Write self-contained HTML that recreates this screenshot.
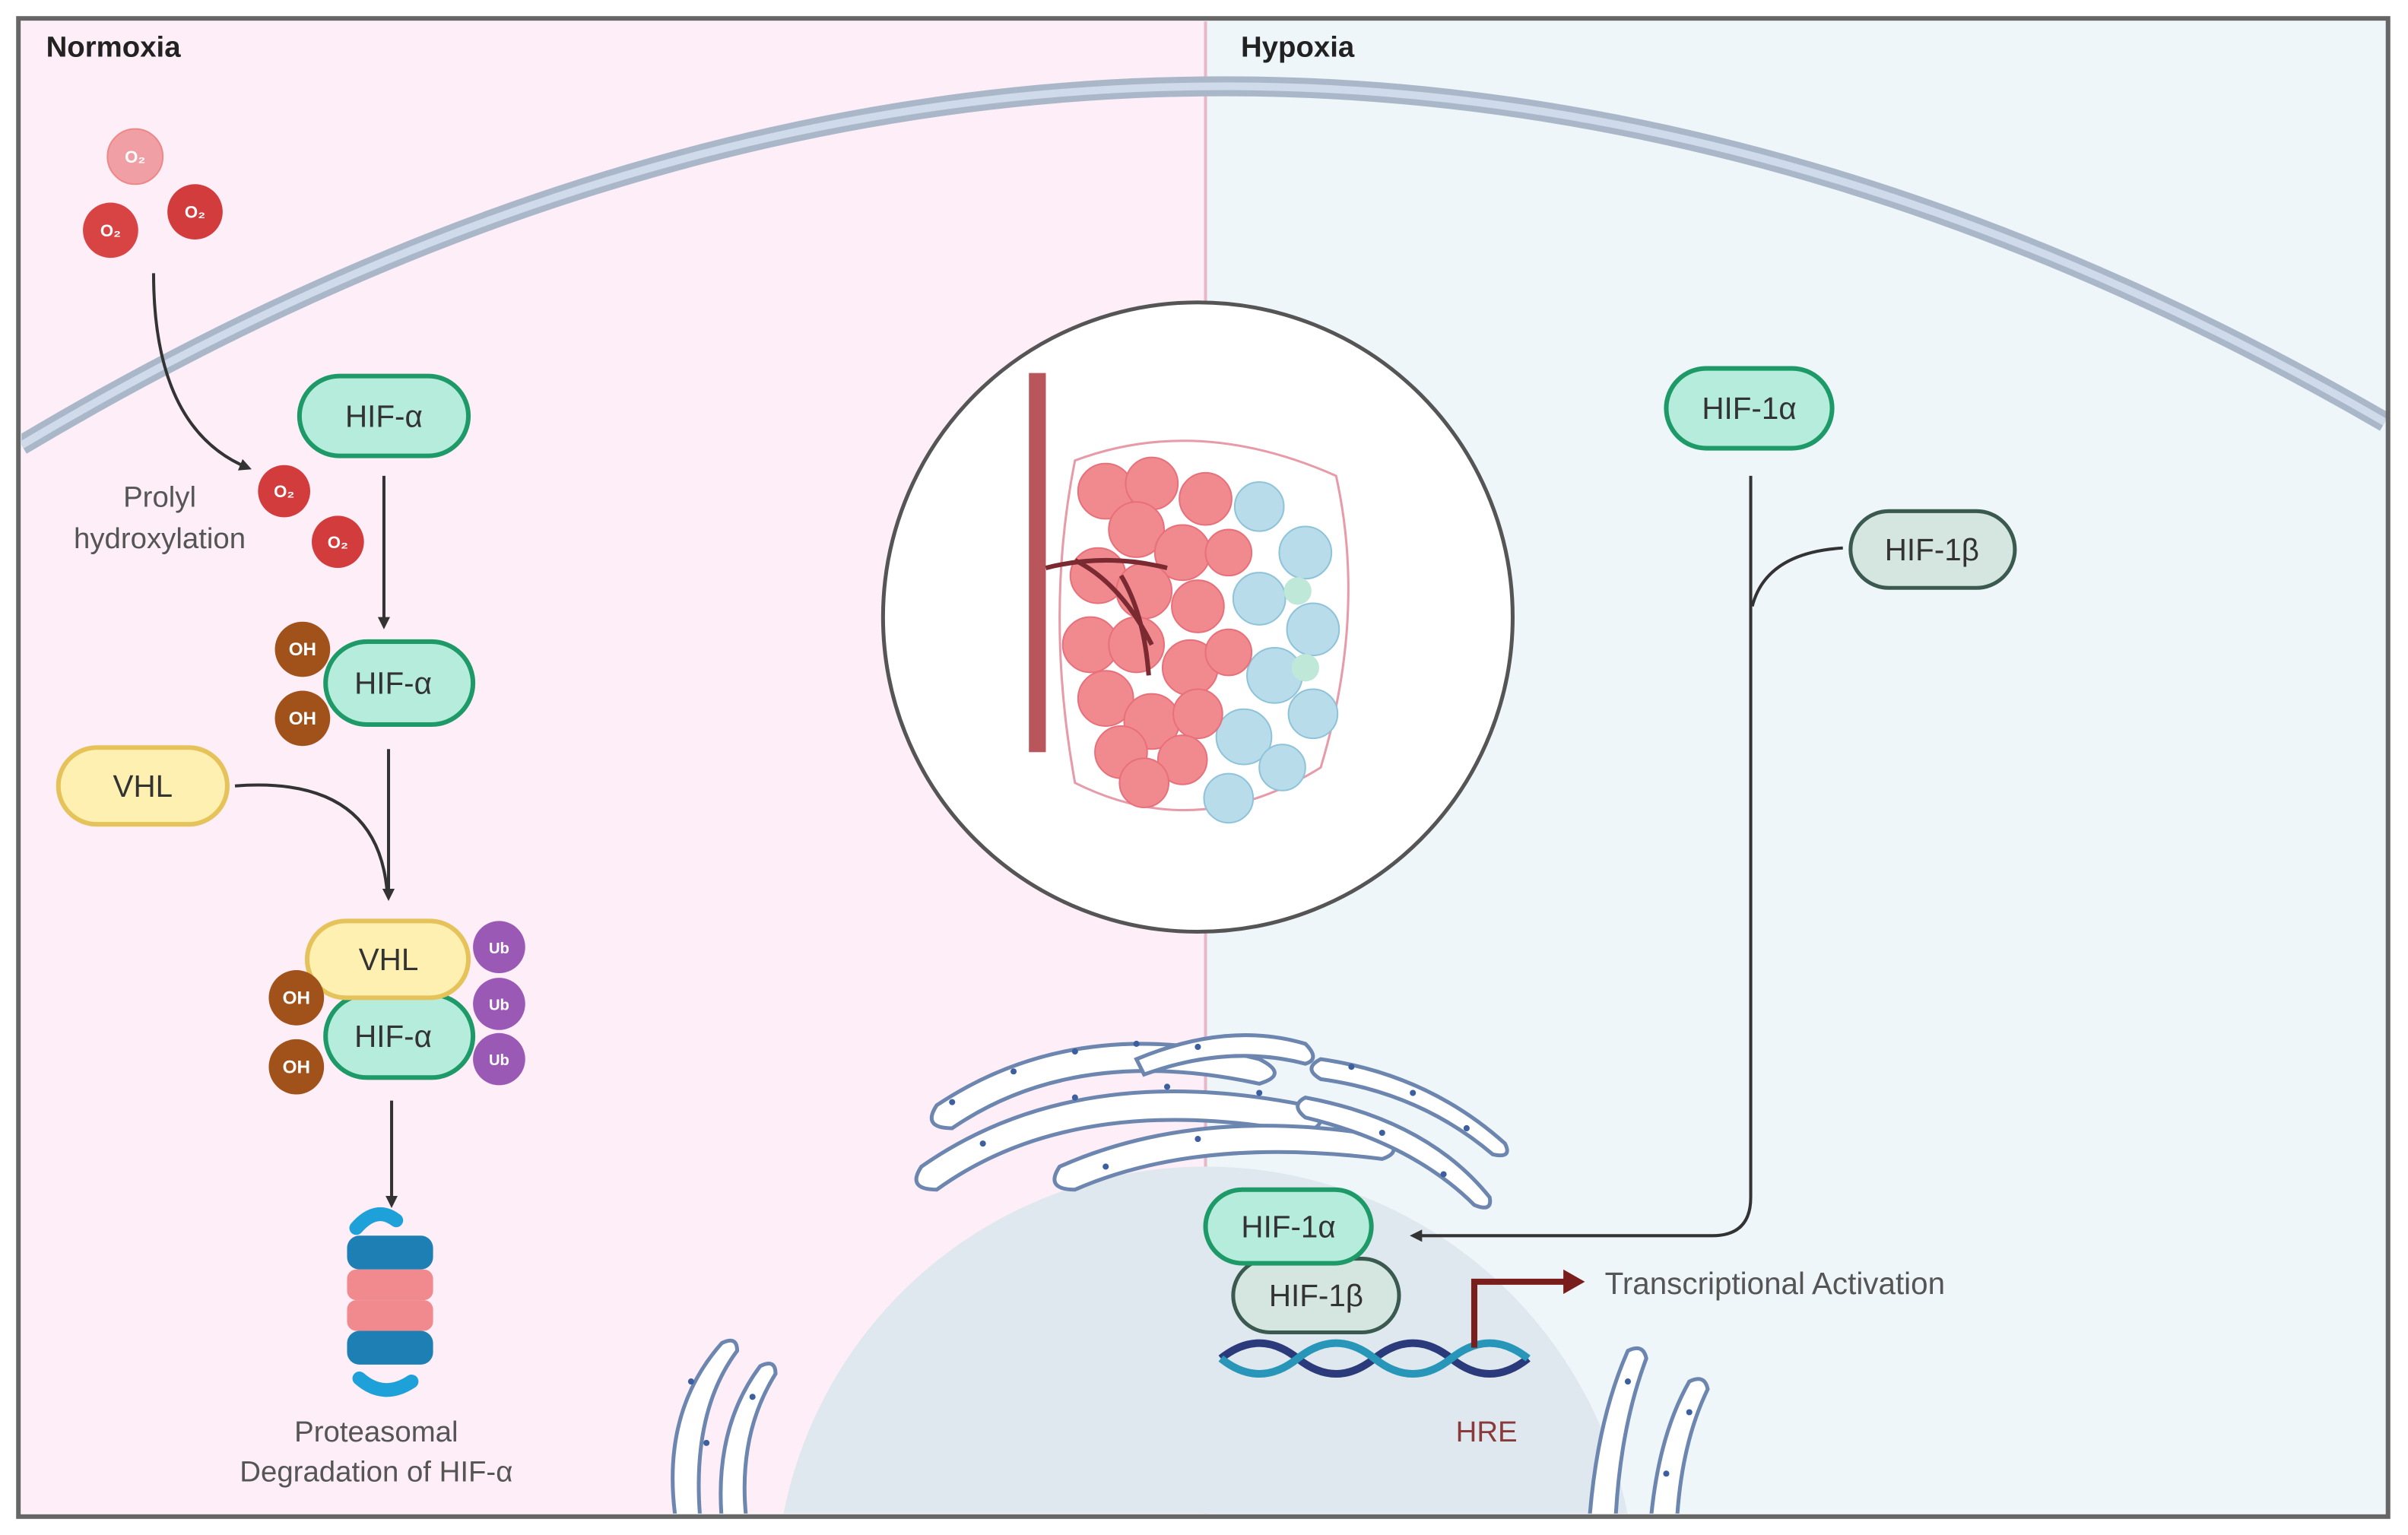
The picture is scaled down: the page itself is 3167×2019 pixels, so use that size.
<!DOCTYPE html>
<html><head><meta charset="utf-8"><style>
html,body{margin:0;padding:0;background:#fff;width:3167px;height:2019px;overflow:hidden}
svg{display:block}
text{font-family:"Liberation Sans",sans-serif}
</style></head><body>
<svg width="3167" height="2019" viewBox="0 0 1568 1000" preserveAspectRatio="none" xmlns="http://www.w3.org/2000/svg">
<defs>
<marker id="ah" markerWidth="8" markerHeight="8" refX="6" refY="4" orient="auto" markerUnits="userSpaceOnUse"><path d="M0,0 L8,4 L0,8 z" fill="#333"/></marker>
<marker id="ahr" markerWidth="14" markerHeight="16" refX="10" refY="8" orient="auto" markerUnits="userSpaceOnUse"><path d="M0,0 L14,8 L0,16 z" fill="#7a1d1d"/></marker>
<clipPath id="frame"><rect x="14" y="14" width="1540" height="972"/></clipPath>
</defs>
<rect x="0" y="0" width="1568" height="1000" fill="#fff"/>
<rect x="14" y="14" width="771" height="972" fill="#fdeef7"/>
<rect x="785" y="14" width="769" height="972" fill="#eef6fa"/>
<line x1="785" y1="14" x2="785" y2="986" stroke="#e6b8c8" stroke-width="2"/>
<g clip-path="url(#frame)">
<path d="M14,290 Q785,-170 1553,275" fill="none" stroke="#a9b7c9" stroke-width="13"/>
<path d="M14,290 Q785,-170 1553,275" fill="none" stroke="#cfdaea" stroke-width="5"/>
<circle cx="785" cy="1040" r="280" fill="#dfe8ee"/>
<g fill="#fff" stroke="#6c86b0" stroke-width="2.5">
<path d="M610,720 Q700,660 820,690 Q840,700 820,706 Q700,680 620,735 Q600,735 610,720z"/>
<path d="M600,760 Q700,690 850,720 Q870,730 850,738 Q700,710 610,775 Q590,775 600,760z"/>
<path d="M690,760 Q780,720 900,740 Q915,750 900,755 Q780,740 700,775 Q680,775 690,760z"/>
<path d="M740,690 Q800,665 850,680 Q860,690 850,693 Q800,680 745,700z"/>
<path d="M860,690 Q930,700 980,745 Q985,755 972,752 Q925,712 860,703 Q848,696 860,690z"/>
<path d="M850,715 Q930,730 970,780 Q972,790 960,785 Q920,745 850,728 Q840,720 850,715z"/>
<path d="M440,990 Q430,920 470,875 Q480,870 480,880 Q450,920 456,990z"/>
<path d="M470,990 Q465,930 495,890 Q505,885 505,895 Q480,935 486,990z"/>
<path d="M1035,990 Q1040,925 1060,880 Q1070,875 1072,885 Q1055,930 1052,990z"/>
<path d="M1075,990 Q1080,935 1100,900 Q1110,895 1112,905 Q1095,940 1092,990z"/>
</g>
<g fill="#3d5fa0">
<circle cx="620" cy="718" r="2"/><circle cx="660" cy="698" r="2"/><circle cx="700" cy="685" r="2"/><circle cx="740" cy="680" r="2"/><circle cx="780" cy="682" r="2"/><circle cx="640" cy="745" r="2"/><circle cx="700" cy="715" r="2"/><circle cx="760" cy="708" r="2"/><circle cx="820" cy="712" r="2"/><circle cx="880" cy="695" r="2"/><circle cx="920" cy="712" r="2"/><circle cx="955" cy="735" r="2"/><circle cx="900" cy="738" r="2"/><circle cx="940" cy="765" r="2"/><circle cx="720" cy="760" r="2"/><circle cx="780" cy="742" r="2"/><circle cx="450" cy="900" r="2"/><circle cx="460" cy="940" r="2"/><circle cx="490" cy="910" r="2"/><circle cx="1060" cy="900" r="2"/><circle cx="1100" cy="920" r="2"/><circle cx="1085" cy="960" r="2"/>
</g>
</g>
<rect x="12" y="12" width="1543" height="976" fill="none" stroke="#666" stroke-width="3"/>
<text x="30" y="37" font-size="19" font-weight="bold" fill="#222">Normoxia</text>
<text x="808" y="37" font-size="19" font-weight="bold" fill="#222">Hypoxia</text>

<circle cx="780" cy="402" r="205" fill="#fff" stroke="#555" stroke-width="2.5"/>
<g>
<path d="M700,300 Q780,270 870,310 Q890,400 860,500 Q780,550 700,510 Q680,400 700,300z" fill="none" stroke="#e79aa8" stroke-width="1.5"/>
<g fill="#b9dcea" stroke="#8ec3da" stroke-width="1">
<circle cx="820" cy="330" r="16"/><circle cx="850" cy="360" r="17"/><circle cx="820" cy="390" r="17"/><circle cx="855" cy="410" r="17"/><circle cx="830" cy="440" r="18"/><circle cx="855" cy="465" r="16"/><circle cx="810" cy="480" r="18"/><circle cx="800" cy="520" r="16"/><circle cx="835" cy="500" r="15"/>
</g>
<g fill="#bfe8d8"><circle cx="845" cy="385" r="9"/><circle cx="850" cy="435" r="9"/></g>
<g fill="#f08a8e" stroke="#e8707a" stroke-width="1">
<circle cx="720" cy="320" r="18"/><circle cx="750" cy="315" r="17"/><circle cx="785" cy="325" r="17"/><circle cx="740" cy="345" r="18"/><circle cx="770" cy="360" r="18"/><circle cx="800" cy="360" r="15"/><circle cx="715" cy="375" r="18"/><circle cx="745" cy="385" r="18"/><circle cx="780" cy="395" r="17"/><circle cx="710" cy="420" r="18"/><circle cx="740" cy="420" r="18"/><circle cx="775" cy="435" r="18"/><circle cx="800" cy="425" r="15"/><circle cx="720" cy="455" r="18"/><circle cx="750" cy="470" r="18"/><circle cx="780" cy="465" r="16"/><circle cx="730" cy="490" r="17"/><circle cx="770" cy="495" r="16"/><circle cx="745" cy="510" r="16"/>
</g>
<rect x="670" y="243" width="11" height="247" fill="#b9565b"/>
<path d="M681,370 Q720,360 760,370 M700,365 Q730,380 750,420 M730,375 Q745,400 748,440" fill="none" stroke="#7a2a30" stroke-width="3"/>
</g>

<g font-size="11" fill="#fff" text-anchor="middle" font-weight="bold">
<circle cx="88" cy="102" r="18" fill="#f0a0a4" stroke="#e88"/><text x="88" y="106">O₂</text>
<circle cx="72" cy="150" r="18" fill="#d84444"/><text x="72" y="154">O₂</text>
<circle cx="127" cy="138" r="18" fill="#d33c3c"/><text x="127" y="142">O₂</text>
<circle cx="185" cy="320" r="17" fill="#d33c3c"/><text x="185" y="324">O₂</text>
<circle cx="220" cy="353" r="17" fill="#d33c3c"/><text x="220" y="357">O₂</text>
</g>
<path d="M100,178 Q100,280 162,305" fill="none" stroke="#333" stroke-width="2" marker-end="url(#ah)"/>
<g font-size="19" fill="#555" text-anchor="middle">
<text x="104" y="330">Prolyl</text><text x="104" y="357">hydroxylation</text>
</g>

<g font-size="20" text-anchor="middle" fill="#333">
<rect x="195" y="245" width="110" height="52" rx="26" fill="#b6ecdb" stroke="#1e9a68" stroke-width="3"/><text x="250" y="278">HIF-α</text>
<line x1="250" y1="310" x2="250" y2="408" stroke="#333" stroke-width="2" marker-end="url(#ah)"/>
<rect x="212" y="418" width="96" height="54" rx="27" fill="#b6ecdb" stroke="#1e9a68" stroke-width="3"/><text x="256" y="452">HIF-α</text>
<line x1="253" y1="488" x2="253" y2="585" stroke="#333" stroke-width="2" marker-end="url(#ah)"/>
<rect x="38" y="487" width="110" height="50" rx="25" fill="#fdf0b0" stroke="#e6c35a" stroke-width="3"/><text x="93" y="519">VHL</text>
<path d="M153,512 Q245,505 252,580" fill="none" stroke="#333" stroke-width="2"/>
<rect x="212" y="648" width="96" height="54" rx="27" fill="#b6ecdb" stroke="#1e9a68" stroke-width="3"/><text x="256" y="682">HIF-α</text>
<rect x="200" y="600" width="105" height="50" rx="25" fill="#fdf0b0" stroke="#e6c35a" stroke-width="3"/><text x="253" y="632">VHL</text>
<line x1="255" y1="717" x2="255" y2="785" stroke="#333" stroke-width="2" marker-end="url(#ah)"/>
<rect x="1085" y="240" width="108" height="52" rx="26" fill="#b6ecdb" stroke="#1e9a68" stroke-width="3"/><text x="1139" y="273">HIF-1α</text>
<rect x="1205" y="333" width="107" height="50" rx="25" fill="#d5e5e0" stroke="#3a5a50" stroke-width="2.5"/><text x="1258" y="365">HIF-1β</text>
<rect x="803" y="820" width="108" height="48" rx="24" fill="#d5e5e0" stroke="#3a5a50" stroke-width="2.5"/><text x="857" y="851">HIF-1β</text>
<rect x="785" y="775" width="108" height="48" rx="24" fill="#b6ecdb" stroke="#1e9a68" stroke-width="3"/><text x="839" y="806">HIF-1α</text>
</g>
<g font-size="12" fill="#fff" text-anchor="middle" font-weight="bold">
<circle cx="197" cy="423" r="18" fill="#a0521a"/><text x="197" y="427">OH</text>
<circle cx="197" cy="468" r="18" fill="#a0521a"/><text x="197" y="472">OH</text>
<circle cx="193" cy="650" r="18" fill="#a0521a"/><text x="193" y="654">OH</text>
<circle cx="193" cy="695" r="18" fill="#a0521a"/><text x="193" y="699">OH</text>
<circle cx="325" cy="617" r="17" fill="#9b59b6"/><text x="325" y="621" font-size="10">Ub</text>
<circle cx="325" cy="654" r="17" fill="#9b59b6"/><text x="325" y="658" font-size="10">Ub</text>
<circle cx="325" cy="690" r="17" fill="#9b59b6"/><text x="325" y="694" font-size="10">Ub</text>
</g>
<g>
<path d="M232,800 Q245,785 258,795" fill="none" stroke="#1ea0d8" stroke-width="9" stroke-linecap="round"/>
<rect x="226" y="805" width="56" height="22" rx="8" fill="#1e7fb5"/>
<rect x="226" y="827" width="56" height="20" rx="6" fill="#f08a8e"/>
<rect x="226" y="847" width="56" height="20" rx="6" fill="#f08a8e"/>
<rect x="226" y="867" width="56" height="22" rx="8" fill="#1e7fb5"/>
<path d="M234,898 Q250,912 268,900" fill="none" stroke="#1ea0d8" stroke-width="9" stroke-linecap="round"/>
</g>
<g font-size="19" fill="#555" text-anchor="middle">
<text x="245" y="939">Proteasomal</text><text x="245" y="965">Degradation of HIF-α</text>
</g>

<path d="M1140,310 L1140,780 Q1140,805 1115,805 L920,805" fill="none" stroke="#333" stroke-width="2" marker-end="url(#ah)"/>
<path d="M1200,357 Q1150,360 1141,395" fill="none" stroke="#333" stroke-width="2"/>
<g fill="none" stroke-width="5">
<path d="M795,885 Q820,865 845,885 T895,885 T945,885 T995,885" stroke="#2b3a7a"/>
<path d="M795,885 Q820,905 845,885 T895,885 T945,885 T995,885" stroke="#2796b8"/>
</g>
<path d="M960,878 L960,835 L1028,835" fill="none" stroke="#7a1d1d" stroke-width="4" marker-end="url(#ahr)"/>
<text x="968" y="939" font-size="19" fill="#8a3a3a" text-anchor="middle">HRE</text>
<text x="1045" y="843" font-size="20" fill="#555">Transcriptional Activation</text>
</svg>
</body></html>
